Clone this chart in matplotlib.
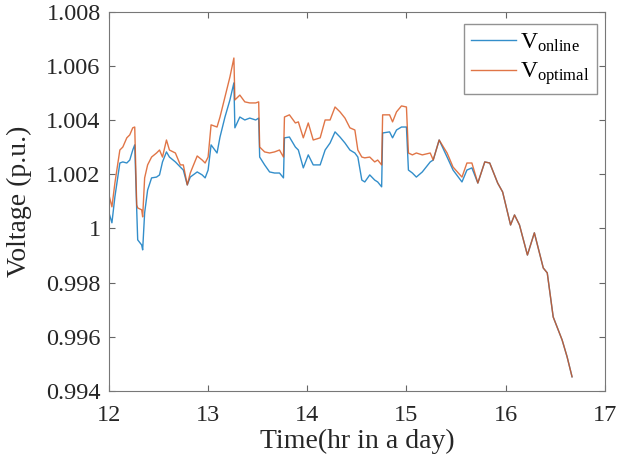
import numpy as np
import matplotlib.pyplot as plt

plt.rcParams['font.family'] = ['Liberation Serif', 'DejaVu Serif']
plt.rcParams['mathtext.fontset'] = 'custom'
plt.rcParams['mathtext.rm'] = 'Liberation Serif'

# time (hr) and voltage (p.u.)
t = [12.00, 12.03, 12.06, 12.11, 12.14, 12.18, 12.21, 12.24, 12.26, 12.28,
     12.29, 12.33, 12.34, 12.36, 12.39, 12.43, 12.48, 12.51, 12.54, 12.58,
     12.61, 12.67, 12.72, 12.75, 12.79, 12.82, 12.89, 12.94, 12.97, 13.00,
     13.03, 13.09, 13.12, 13.17, 13.22, 13.26, 13.27, 13.32, 13.37, 13.42,
     13.48, 13.51, 13.52, 13.57, 13.62, 13.67, 13.72, 13.76, 13.77, 13.82,
     13.88, 13.91, 13.96, 14.01, 14.06, 14.13, 14.18, 14.23, 14.28, 14.33,
     14.38, 14.43, 14.48, 14.51, 14.55, 14.58, 14.63, 14.68, 14.71, 14.75,
     14.76, 14.83, 14.86, 14.90, 14.95, 15.00, 15.02, 15.06, 15.10, 15.16,
     15.24, 15.27, 15.33, 15.41, 15.47, 15.56, 15.61, 15.66, 15.72, 15.79,
     15.84, 15.92, 15.97, 16.05, 16.09, 16.14, 16.22, 16.29, 16.38, 16.42,
     16.48, 16.57, 16.62, 16.67]

v_online = [1.00058, 1.00021, 1.00117, 1.00242, 1.00246, 1.00242, 1.00253, 1.00290, 1.00309, 1.00069,
            0.99958, 0.99939, 0.99921, 1.00058, 1.00142, 1.00187, 1.00190, 1.00198, 1.00246, 1.00283,
            1.00264, 1.00246, 1.00227, 1.00216, 1.00161, 1.00190, 1.00209, 1.00198, 1.00187, 1.00216,
            1.00309, 1.00279, 1.00338, 1.00412, 1.00475, 1.00538, 1.00372, 1.00412, 1.00401, 1.00408,
            1.00401, 1.00408, 1.00264, 1.00235, 1.00209, 1.00205, 1.00205, 1.00187, 1.00335, 1.00338,
            1.00301, 1.00290, 1.00224, 1.00272, 1.00235, 1.00235, 1.00290, 1.00316, 1.00357, 1.00338,
            1.00316, 1.00290, 1.00279, 1.00264, 1.00179, 1.00172, 1.00198, 1.00179, 1.00172, 1.00154,
            1.00353, 1.00357, 1.00335, 1.00364, 1.00375, 1.00375, 1.00216, 1.00205, 1.00190, 1.00209,
            1.00246, 1.00253, 1.00327, 1.00264, 1.00216, 1.00172, 1.00216, 1.00224, 1.00168, 1.00246,
            1.00242, 1.00168, 1.00135, 1.00013, 1.00050, 1.00013, 0.99902, 0.99984, 0.99854, 0.99836,
            0.99673, 0.99588, 0.99526, 0.99452]

v_optimal = [1.00124, 1.00080, 1.00168, 1.00290, 1.00301, 1.00335, 1.00346, 1.00372, 1.00375, 1.00087,
             1.00076, 1.00069, 1.00043, 1.00187, 1.00235, 1.00264, 1.00279, 1.00290, 1.00264, 1.00327,
             1.00290, 1.00279, 1.00235, 1.00235, 1.00161, 1.00205, 1.00268, 1.00253, 1.00242, 1.00264,
             1.00383, 1.00375, 1.00412, 1.00486, 1.00560, 1.00630, 1.00475, 1.00493, 1.00468, 1.00464,
             1.00464, 1.00468, 1.00301, 1.00283, 1.00279, 1.00283, 1.00290, 1.00264, 1.00412, 1.00420,
             1.00390, 1.00394, 1.00335, 1.00390, 1.00327, 1.00335, 1.00401, 1.00401, 1.00449, 1.00431,
             1.00408, 1.00372, 1.00364, 1.00290, 1.00264, 1.00261, 1.00264, 1.00246, 1.00253, 1.00235,
             1.00420, 1.00420, 1.00394, 1.00431, 1.00453, 1.00449, 1.00279, 1.00272, 1.00279, 1.00272,
             1.00279, 1.00253, 1.00327, 1.00279, 1.00227, 1.00190, 1.00242, 1.00242, 1.00168, 1.00246,
             1.00242, 1.00168, 1.00135, 1.00013, 1.00050, 1.00013, 0.99902, 0.99984, 0.99854, 0.99836,
             0.99673, 0.99588, 0.99526, 0.99452]

fig = plt.figure(figsize=(6.19, 4.62), dpi=100)
ax = fig.add_axes([0.176, 0.154, 0.801, 0.820])

ax.plot(t, v_online, color='#0072BD', lw=1.0, alpha=0.8, label=r'$\mathrm{V_{online}}$')
ax.plot(t, v_optimal, color='#D95319', lw=1.0, alpha=0.8, label=r'$\mathrm{V_{optimal}}$')

ax.set_xlim(12, 17)
ax.set_ylim(0.994, 1.008)
ax.set_xticks([12, 13, 14, 15, 16, 17])
ax.set_yticks([0.994, 0.996, 0.998, 1.0, 1.002, 1.004, 1.006, 1.008])
ax.set_yticklabels(['0.994', '0.996', '0.998', '1', '1.002', '1.004', '1.006', '1.008'])
ax.tick_params(direction='in', top=True, right=True, labelsize=17.5, length=4,
               color='#666666', labelcolor='#262626')
ax.tick_params(axis='x', pad=10)
ax.tick_params(axis='y', pad=6)
for s in ax.spines.values():
    s.set_color('#777777')

ax.set_xlabel('Time(hr in a day)', fontsize=20, color='#262626', labelpad=2)
ax.set_ylabel('Voltage (p.u.)', fontsize=20, color='#262626', labelpad=10)

leg = ax.legend(loc='upper right', bbox_to_anchor=(0.984, 0.968), borderaxespad=0,
                fontsize=17, fancybox=False, edgecolor='#777777',
                handlelength=1.9, labelspacing=0.3, handletextpad=0.2, borderpad=0.3)
leg.get_frame().set_linewidth(1.0)

plt.savefig('out.png', dpi=100)
